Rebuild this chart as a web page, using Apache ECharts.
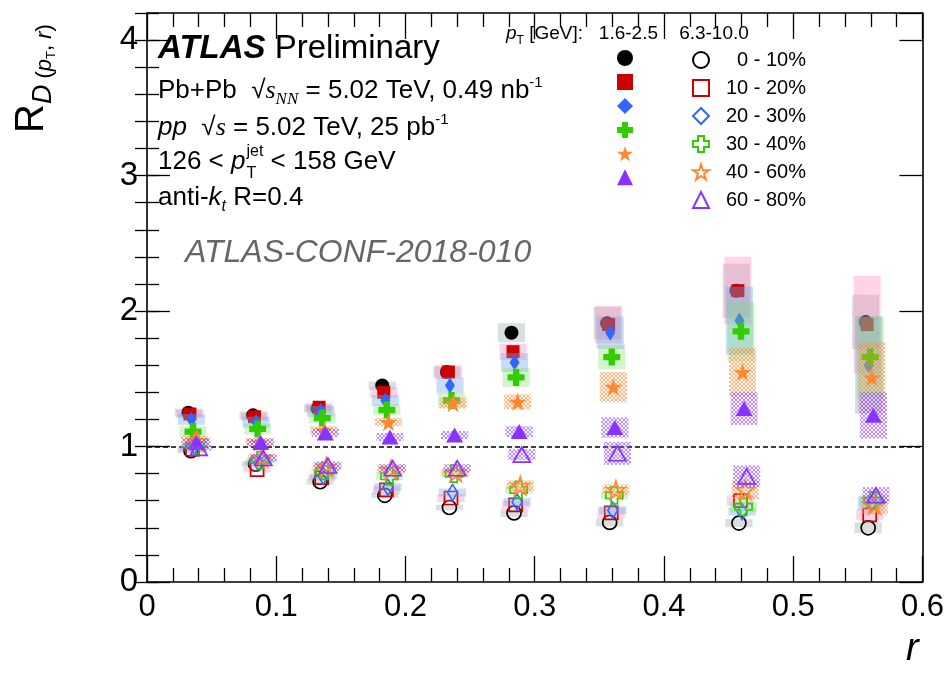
<!DOCTYPE html>
<html><head><meta charset="utf-8">
<script src="https://cdn.jsdelivr.net/npm/echarts@6/dist/echarts.min.js"></script>
<style>html,body{margin:0;padding:0;background:#fff}#c{width:947px;height:675px}</style>
</head><body><div id="c"></div><script>
// ---- data ----
const rBins = [0.032, 0.082, 0.132, 0.182, 0.232, 0.282, 0.356, 0.456, 0.556];
const centShift = [0, 0.0012, 0.0024, 0.0036, 0.0048, 0.006];
const openShift = 0.002;
const centralities = ['0 - 10%', '10 - 20%', '20 - 30%', '30 - 40%', '40 - 60%', '60 - 80%'];
const yTicks = [0, 1, 2, 3, 4];
const xTicks = [0, 0.1, 0.2, 0.3, 0.4, 0.5, 0.6];
// low pT (1.6-2.5 GeV), filled markers
const low_0_10  = [1.25, 1.23, 1.28, 1.45, 1.55, 1.84, 1.91, 2.15, 1.92];
const low_10_20 = [1.24, 1.22, 1.29, 1.40, 1.55, 1.70, 1.90, 2.15, 1.90];
const low_20_30 = [1.20, 1.18, 1.26, 1.34, 1.45, 1.62, 1.84, 1.93, 1.60];
const low_30_40 = [1.11, 1.13, 1.21, 1.27, 1.34, 1.51, 1.66, 1.85, 1.66];
const low_40_60 = [1.05, 1.03, 1.12, 1.18, 1.32, 1.33, 1.44, 1.55, 1.51];
const low_60_80 = [1.03, 1.03, 1.10, 1.07, 1.085, 1.11, 1.14, 1.28, 1.23];
// systematic uncertainties (half height), low pT
const lowSys_0_10  = [0.03, 0.03, 0.03, 0.03, 0.04, 0.07, 0.12, 0.20, 0.20];
const lowSys_10_20 = [0.03, 0.03, 0.03, 0.04, 0.05, 0.06, 0.14, 0.25, 0.36];
const lowSys_20_30 = [0.04, 0.04, 0.04, 0.04, 0.06, 0.07, 0.12, 0.25, 0.36];
const lowSys_30_40 = [0.04, 0.04, 0.04, 0.04, 0.05, 0.07, 0.09, 0.22, 0.30];
const lowSys_40_60 = [0.03, 0.03, 0.03, 0.03, 0.04, 0.055, 0.11, 0.18, 0.26];
const lowSys_60_80 = [0.03, 0.03, 0.03, 0.03, 0.03, 0.04, 0.075, 0.12, 0.17];
// high pT (6.3-10.0 GeV), open markers
const high_0_10  = [0.97, 0.87, 0.74, 0.64, 0.55, 0.51, 0.44, 0.435, 0.40];
const high_10_20 = [0.98, 0.83, 0.77, 0.68, 0.62, 0.57, 0.51, 0.60, 0.495];
const high_20_30 = [1.00, 0.88, 0.78, 0.70, 0.66, 0.59, 0.53, 0.52, 0.58];
const high_30_40 = [1.01, 0.90, 0.82, 0.78, 0.80, 0.68, 0.64, 0.555, 0.60];
const high_40_60 = [1.04, 0.92, 0.85, 0.83, 0.81, 0.71, 0.68, 0.68, 0.57];
const high_60_80 = [0.99, 0.915, 0.86, 0.84, 0.84, 0.94, 0.95, 0.78, 0.64];
const highSys_0_10  = [0.02, 0.02, 0.02, 0.02, 0.02, 0.03, 0.03, 0.03, 0.04];
const highSys_10_20 = [0.02, 0.02, 0.02, 0.03, 0.03, 0.03, 0.04, 0.04, 0.04];
const highSys_20_30 = [0.02, 0.02, 0.02, 0.03, 0.03, 0.03, 0.03, 0.03, 0.05];
const highSys_30_40 = [0.02, 0.02, 0.02, 0.03, 0.03, 0.03, 0.03, 0.04, 0.04];
const highSys_40_60 = [0.02, 0.02, 0.03, 0.03, 0.03, 0.04, 0.04, 0.07, 0.07];
const highSys_60_80 = [0.02, 0.03, 0.03, 0.03, 0.03, 0.04, 0.085, 0.08, 0.06];

const lowVals = [low_0_10, low_10_20, low_20_30, low_30_40, low_40_60, low_60_80];
const lowSys = [lowSys_0_10, lowSys_10_20, lowSys_20_30, lowSys_30_40, lowSys_40_60, lowSys_60_80];
const highVals = [high_0_10, high_10_20, high_20_30, high_30_40, high_40_60, high_60_80];
const highSys = [highSys_0_10, highSys_10_20, highSys_20_30, highSys_30_40, highSys_40_60, highSys_60_80];

// ---- styles ----
const FONT = 'Liberation Sans, Arial, Helvetica, sans-serif';
const colors = ['#000000', '#cc0000', '#3366ff', '#33cc00', '#ff8833', '#8833ff'];
function hatch(line, bg) {
  const c = document.createElement('canvas'); c.width = 4; c.height = 4;
  const g = c.getContext('2d');
  g.fillStyle = bg; g.fillRect(0, 0, 4, 4);
  g.strokeStyle = line; g.lineWidth = 0.8;
  g.beginPath(); g.moveTo(0, 0); g.lineTo(4, 4); g.moveTo(4, 0); g.lineTo(0, 4); g.stroke();
  return { image: c, repeat: 'repeat' };
}
const boxFills = [
  'rgba(150,165,165,0.35)', 'rgba(255,120,180,0.32)', 'rgba(110,170,235,0.38)',
  'rgba(120,220,110,0.32)', hatch('rgba(255,130,40,0.7)', 'rgba(255,200,150,0.12)'),
  hatch('rgba(140,60,255,0.7)', 'rgba(200,170,255,0.12)')
];
const crossPath = 'path://M-1.5,-4H1.5V-1.5H4V1.5H1.5V4H-1.5V1.5H-4V-1.5H-1.5Z';
const starPath = 'path://M0,-10L2.245,-3.09L9.51,-3.09L3.633,1.18L5.88,8.09L0,3.82L-5.88,8.09L-3.633,1.18L-9.51,-3.09L-2.245,-3.09Z';
const symbols = ['circle', 'rect', 'diamond', crossPath, starPath, 'triangle'];
const symSizes = [14, 13, [10, 16], 17, 18, [17, 15]];
const BOX_HW = 0.0105;

const series = [];
let z = 2;
function boxSeries(xs, ys, es, fill) {
  return {
    type: 'custom', z: z++, silent: true, xAxisIndex: 0, yAxisIndex: 0,
    data: xs.map((x, i) => [x, ys[i], es[i]]),
    encode: { x: 0, y: 1 },
    renderItem(params, api) {
      const x = api.value(0), y = api.value(1), e = api.value(2);
      const p1 = api.coord([x - BOX_HW, y + e]);
      const p2 = api.coord([x + BOX_HW, y - e]);
      return { type: 'rect', shape: { x: p1[0], y: p1[1], width: p2[0] - p1[0], height: p2[1] - p1[1] },
        style: { fill: fill, stroke: null } };
    }
  };
}
for (let i = 0; i < 6; i++) {
  const xl = rBins.map(r => r + centShift[i]);
  const xh = rBins.map(r => r + centShift[i] + openShift);
  series.push(boxSeries(xl, lowVals[i], lowSys[i], boxFills[i]));
  const sF = {
    name: centralities[i] + ' (1.6-2.5)', type: 'scatter', z: z++, xAxisIndex: 0, yAxisIndex: 0,
    symbol: symbols[i], symbolSize: symSizes[i],
    itemStyle: { color: colors[i], opacity: 1 },
    data: xl.map((x, k) => [x, lowVals[i][k]])
  };
  if (i === 0) {
    sF.markLine = { silent: true, symbol: ['none', 'none'], label: { show: false },
      lineStyle: { color: '#000', type: [5, 3], width: 1.6 }, data: [{ yAxis: 1 }] };
  }
  series.push(sF);
  series.push(boxSeries(xh, highVals[i], highSys[i], boxFills[i]));
  series.push({
    name: centralities[i], type: 'scatter', z: z++, xAxisIndex: 0, yAxisIndex: 0,
    symbol: symbols[i], symbolSize: symSizes[i],
    itemStyle: { color: 'rgba(255,255,255,0)', borderColor: colors[i], borderWidth: 1.7, opacity: 1 },
    data: xh.map((x, k) => [x, highVals[i][k]])
  });
}

// ---- text layout helper ----
const mctx = document.createElement('canvas').getContext('2d');
function runs(x0, base, items, extra) {
  const out = []; let x = x0;
  items.forEach(it => {
    const font = (it.style || 'normal') + ' ' + (it.weight || 'normal') + ' ' + it.size + 'px ' + (it.family || FONT);
    mctx.font = font;
    const w = mctx.measureText(it.t).width;
    out.push(Object.assign({ type: 'text', x: x + (it.dx || 0), y: base + (it.dy || 0) - 0.32 * it.size,
      style: { text: it.t, font: font, fill: it.fill || '#000', textVerticalAlign: 'middle', textAlign: 'left' } }, extra || {}));
    if (!it.stack) x += w + (it.dx || 0);
  });
  return out;
}
const S = 26;
const serif = 'Liberation Serif, Times New Roman, serif';
let graphics = [];
graphics = graphics.concat(runs(158, 59, [
  { t: 'ATLAS', size: 33, weight: 'bold', style: 'italic' },
  { t: ' Preliminary', size: 33 }
]));
graphics = graphics.concat(runs(158, 99, [
  { t: 'Pb+Pb  ', size: S }, { t: '√', size: S }, { t: 's', size: S, style: 'italic', family: serif },
  { t: 'NN', size: 17, style: 'italic', family: serif, dy: 6 },
  { t: ' = 5.02 TeV, 0.49 nb', size: S }, { t: '-1', size: 15, dy: -11 }
]));
graphics = graphics.concat(runs(158, 136, [
  { t: 'pp', size: S, style: 'italic' }, { t: '  √', size: S }, { t: 's', size: S, style: 'italic', family: serif },
  { t: ' = 5.02 TeV, 25 pb', size: S }, { t: '-1', size: 15, dy: -11 }
]));
graphics = graphics.concat(runs(158, 170, [
  { t: '126 < ', size: S }, { t: 'p', size: S, style: 'italic' },
  { t: 'T', size: 16, dy: 9, dx: 1, stack: true }, { t: 'jet', size: 16, dy: -13, dx: 1 },
  { t: ' < 158 GeV', size: S }
]));
graphics = graphics.concat(runs(158, 206, [
  { t: 'anti-', size: S }, { t: 'k', size: S, style: 'italic' }, { t: 't', size: 16, style: 'italic', dy: 6 },
  { t: ' R=0.4', size: S }
]));
graphics = graphics.concat(runs(185, 263, [
  { t: 'ATLAS-CONF-2018-010', size: 32, style: 'italic', fill: '#666666' }
]));
// legend header
graphics = graphics.concat(runs(506, 40, [
  { t: 'p', size: 19, style: 'italic' }, { t: 'T', size: 12, dy: 5 },
  { t: ' [GeV]:   1.6-2.5    6.3-10.0', size: 19 }
]));
// x axis title
graphics = graphics.concat(runs(906, 662, [{ t: 'r', size: 38, style: 'italic' }]));
// y axis title (rotated)
const yTitle = runs(0, 0, [
  { t: 'R', size: 40 }, { t: 'D', size: 27, style: 'italic', dy: 7 },
  { t: ' (', size: 22, dy: 7 }, { t: 'p', size: 22, style: 'italic', dy: 7 },
  { t: 'T', size: 13, dy: 11 }, { t: ', ', size: 22, dy: 7 }, { t: 'r', size: 22, style: 'italic', dy: 7 },
  { t: ')', size: 22, dy: 7 }
]);
graphics.push({ type: 'group', x: 45, y: 133, rotation: Math.PI / 2, children: yTitle });

const tickLine = { color: '#000', width: 1.3 };
const axisLine = { show: true, onZero: false, lineStyle: { color: '#000', width: 1.6 } };
function xAx(pos, labels) {
  return {
    type: 'value', min: xTicks[0], max: xTicks[xTicks.length - 1], interval: 0.1, position: pos,
    axisLine: axisLine, splitLine: { show: false },
    axisTick: { show: true, inside: true, length: 26, lineStyle: tickLine },
    minorTick: { show: true, splitNumber: 5, length: 14, lineStyle: tickLine },
    axisLabel: { show: labels, fontSize: 31, color: '#000', margin: 10,
      fontFamily: 'Liberation Sans Narrow, Liberation Sans, Arial, sans-serif',
      formatter: v => String(+v.toFixed(2)) }
  };
}
function yAx(pos, interval, len, labels, line) {
  return {
    type: 'value', min: yTicks[0], max: 4.2, interval: interval, position: pos,
    axisLine: line ? axisLine : { show: false }, splitLine: { show: false },
    axisTick: { show: true, inside: true, length: len, lineStyle: tickLine },
    axisLabel: { show: labels, fontSize: 33, color: '#000', margin: 9, fontFamily: FONT,
      showMaxLabel: false, formatter: v => (yTicks.indexOf(v) >= 0 ? String(v) : '') }
  };
}

const option = {
  animation: false,
  backgroundColor: '#ffffff',
  grid: { left: 147, right: 22, top: 13, bottom: 93, containLabel: false },
  xAxis: [xAx('bottom', true), xAx('top', false)],
  yAxis: [yAx('left', 1, 23, true, true), yAx('left', 0.2, 12, false, false),
          yAx('right', 1, 23, false, true), yAx('right', 0.2, 12, false, false)],
  legend: [
    { data: centralities.map(c => c + ' (1.6-2.5)'), orient: 'vertical', left: 617, top: 50, padding: 0,
      itemWidth: 16, itemHeight: 16, itemGap: 8, selectedMode: false, formatter: () => '',
      textStyle: { fontSize: 1, lineHeight: 16 } },
    { data: centralities, orient: 'vertical', left: 692, top: 50, padding: 0,
      itemWidth: 16, itemHeight: 16, itemGap: 8, selectedMode: false,
      formatter: n => '{a|' + n + '}',
      textStyle: { lineHeight: 16, rich: { a: { width: 92, align: 'right', fontSize: 20, lineHeight: 16, fontFamily: FONT, color: '#000' } } } }
  ],
  graphic: graphics,
  series: series
};
echarts.init(document.getElementById('c')).setOption(option);
</script></body></html>
